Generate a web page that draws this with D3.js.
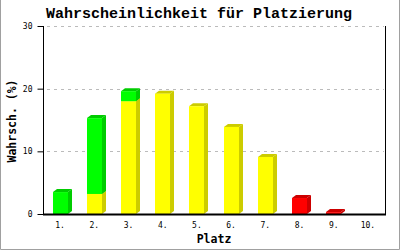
<!DOCTYPE html>
<html>
<head>
<meta charset="utf-8">
<script src="https://cdn.jsdelivr.net/npm/d3@7"></script>
<style>
  body { margin: 0; background: #fff; }
  svg { display: block; }
</style>
</head>
<body>
<div id="chart"></div>
<script>
// data
var places = ['1.', '2.', '3.', '4.', '5.', '6.', '7.', '8.', '9.', '10.'];
var green_vals = [3.5, 12.1, 1.6, 0, 0, 0, 0, 0, 0, 0];
var yellow_vals = [0, 3.2, 18.0, 19.2, 17.2, 13.9, 9.1, 0, 0, 0];
var red_vals = [0, 0, 0, 0, 0, 0, 0, 2.55, 0.3, 0];
var y_ticks = [0, 10, 20, 30];

var width = 400;
var height = 250;
var padding = {'top': 26, 'right': 15, 'bottom': 36, 'left': 43};
var bar_w = 15;
var depth_x = 4;
var depth_y = 3;

// bottom to top
var series = [
    {'key': 'red', 'values': red_vals, 'front': '#ff0000', 'side': '#cc0000'},
    {'key': 'yellow', 'values': yellow_vals, 'front': '#ffff00', 'side': '#cccc00'},
    {'key': 'green', 'values': green_vals, 'front': '#00ff00', 'side': '#00cc00'}
];

var svg = d3.select('#chart')
    .append('svg')
    .attr('width', width)
    .attr('height', height);

svg.append('rect')
    .attr('width', width)
    .attr('height', height)
    .style('fill', '#ffffff');

// frame (left, right, bottom)
svg.append('path')
    .attr('d', 'M0.5,0 V249.5 H399.5 V0')
    .style('fill', 'none')
    .style('stroke', '#a0a0a0')
    .style('stroke-width', 1);

var x = d3.scaleBand()
    .domain(places)
    .range([padding.left, width - padding.right]);

var y = d3.scaleLinear()
    .domain([0, 30])
    .range([height - padding.bottom, padding.top]);

// grid
svg.append('g')
    .attr('class', 'grid')
    .selectAll('line')
    .data(y_ticks.slice(1))
    .enter()
    .append('line')
    .attr('x1', padding.left + 4)
    .attr('x2', width - padding.right - 1)
    .attr('y1', function(d){ return Math.round(y(d)) + 0.5; })
    .attr('y2', function(d){ return Math.round(y(d)) + 0.5; })
    .style('stroke', '#bbbbbb')
    .style('stroke-dasharray', '3,4');

// bars
var bar_group = svg.append('g').attr('class', 'bars');
places.forEach(function(place, i){
    var base = 0;
    var x0 = Math.round(x(place) + x.bandwidth() / 2 - bar_w / 2);
    var x1 = x0 + bar_w;
    series.forEach(function(s){
        var v = s.values[i];
        if (v <= 0) return;
        var yb = y(base);
        var yt = y(base + v);
        base += v;
        var g = bar_group.append('g').attr('class', 'bar ' + s.key);
        // side
        g.append('polygon')
            .attr('points', [[x1, yb], [x1 + depth_x, yb - depth_y], [x1 + depth_x, yt - depth_y], [x1, yt]].join(' '))
            .style('fill', s.side);
        // top
        g.append('polygon')
            .attr('points', [[x0, yt], [x0 + depth_x, yt - depth_y], [x1 + depth_x, yt - depth_y], [x1, yt]].join(' '))
            .style('fill', s.side);
        // front
        g.append('rect')
            .attr('x', x0)
            .attr('y', yt)
            .attr('width', bar_w)
            .attr('height', Math.max(1, yb - yt))
            .style('fill', s.front);
    });
});

// axes
var y_axis = d3.axisLeft(y).tickValues(y_ticks).tickSize(6).tickPadding(5);
var y_g = svg.append('g')
    .attr('transform', 'translate(' + (padding.left + 0.5) + ',0)')
    .call(y_axis);
y_g.select('.domain').remove();
y_g.selectAll('.tick line').style('stroke', '#000');
y_g.selectAll('text')
    .style('font-family', 'DejaVu Sans Mono')
    .style('font-size', '8px')
    .style('fill', '#000');

var x_axis = d3.axisBottom(x).tickSize(0).tickPadding(8);
var x_g = svg.append('g')
    .attr('transform', 'translate(0,' + (height - padding.bottom) + ')')
    .call(x_axis);
x_g.select('.domain').remove();
x_g.selectAll('text')
    .style('font-family', 'DejaVu Sans Mono')
    .style('font-size', '8px')
    .style('fill', '#000');

// axis lines
svg.append('line')
    .attr('x1', padding.left + 0.5).attr('x2', padding.left + 0.5)
    .attr('y1', padding.top).attr('y2', height - padding.bottom)
    .style('stroke', '#000');
svg.append('line')
    .attr('x1', width - padding.right + 0.5).attr('x2', width - padding.right + 0.5)
    .attr('y1', padding.top).attr('y2', height - padding.bottom)
    .style('stroke', '#000');
svg.append('line')
    .attr('x1', padding.left).attr('x2', width - padding.right + 1)
    .attr('y1', height - padding.bottom + 0.5).attr('y2', height - padding.bottom + 0.5)
    .style('stroke', '#000')
    .style('stroke-width', 2);

// texts
svg.append('text')
    .attr('x', 199)
    .attr('y', 18)
    .attr('text-anchor', 'middle')
    .style('font-family', 'Liberation Mono')
    .style('font-weight', 'bold')
    .style('font-size', '15px')
    .text('Wahrscheinlichkeit für Platzierung');

svg.append('text')
    .attr('x', 214)
    .attr('y', 243)
    .attr('text-anchor', 'middle')
    .style('font-family', 'DejaVu Sans Mono')
    .style('font-weight', 'bold')
    .style('font-size', '11.5px')
    .text('Platz');

svg.append('text')
    .attr('transform', 'translate(16,121) rotate(-90)')
    .attr('text-anchor', 'middle')
    .style('font-family', 'DejaVu Sans Mono')
    .style('font-weight', 'bold')
    .style('font-size', '11.5px')
    .text('Wahrsch. (%)');
</script>
</body>
</html>
